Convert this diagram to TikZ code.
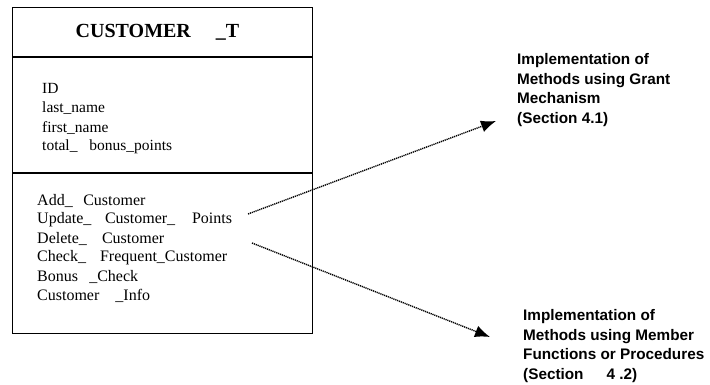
\documentclass[tikz,border=0pt]{standalone}
\usepackage{fontspec}
\setmainfont{Liberation Serif}
\newfontfamily\rsans{Liberation Sans}
\usetikzlibrary{arrows.meta}
\tikzset{
  boxline/.style={line width=1.1pt},
  attr/.style={anchor=west, inner sep=0pt, font=\fontsize{15.5}{17}\selectfont},
  meth/.style={anchor=west, inner sep=0pt, font=\fontsize{16}{18}\selectfont},
  impl/.style={anchor=north west, inner sep=0pt, align=left, font=\rsans\bfseries\fontsize{15.3}{19.8}\selectfont},
  link/.style={line width=1.4pt, dash pattern=on 1.2pt off 0.8pt, -{Latex[length=15pt,width=12pt]}}
}
\begin{document}
\begin{tikzpicture}[x=1pt,y=-1pt]
\useasboundingbox (0,0) rectangle (710,385);
\node (box) [draw, boxline, anchor=north west, minimum width=300pt, minimum height=326pt, inner sep=0pt] at (12,7) {};
\coordinate (s1l) at (12,57); \coordinate (s1r) at (312,57);
\coordinate (s2l) at (12,173); \coordinate (s2r) at (312,173);
\draw[boxline] (s1l) -- (s1r);
\draw[boxline] (s2l) -- (s2r);
\node (title) [inner sep=0pt, font=\bfseries\fontsize{20}{22}\selectfont] at (157.5,32) {CUSTOMER\hspace{1.25em}\_T};
\node (a1) [attr] at (42,88) {ID};
\node (a2) [attr] at (42,108) {last\_name};
\node (a3) [attr] at (42,128) {first\_name};
\node (a4) [attr] at (42,147) {total\_\hspace{0.77em}bonus\_points};
\node (m1) [meth] at (37,201) {Add\_\hspace{0.66em}Customer};
\node (m2) [meth] at (37,220) {Update\_\hspace{0.85em}Customer\_\hspace{1.05em}Points};
\node (m3) [meth] at (37,239) {Delete\_\hspace{0.94em}Customer};
\node (m4) [meth] at (37,258) {Check\_\hspace{0.875em}Frequent\_Customer};
\node (m5) [meth] at (37,277) {Bonus\hspace{0.7em}\_Check};
\node (m6) [meth] at (37,296) {Customer\hspace{1em}\_Info};
\node (g) [impl] at (517,53) {Implementation of\\Methods using Grant\\Mechanism\\(Section 4.1)};
\node (p) [impl] at (523,309) {Implementation of\\Methods using Member\\Functions or Procedures\\(Section\hspace{1.5em}4 .2)};
\coordinate (st1) at (248,214);
\coordinate (en1) at (496,121);
\coordinate (st2) at (252,243);
\coordinate (en2) at (490,337);
\draw[link] (st1) -- (en1);
\draw[link] (st2) -- (en2);
\end{tikzpicture}
\end{document}
